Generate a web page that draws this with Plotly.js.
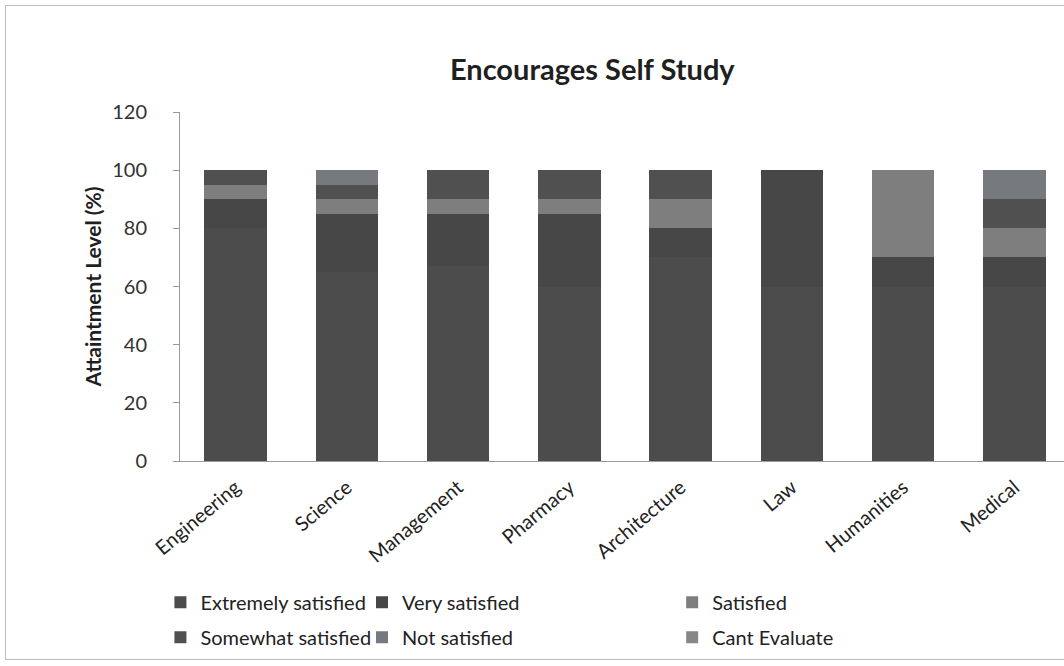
<!DOCTYPE html>
<html>
<head>
<meta charset="utf-8">
<script src="https://cdn.plot.ly/plotly-3.0.1.min.js"></script>
<style>
html,body{margin:0;padding:0;background:#fff;overflow:hidden;}
#frame{position:absolute;left:5px;top:5px;width:1080px;height:655px;border:1px solid #bdbdbd;box-sizing:border-box;}
#chart{position:absolute;left:0;top:0;width:1075px;height:666px;}
</style>
</head>
<body>
<div id="frame"></div>
<div id="chart"></div>
<script>
const categories = ["Engineering","Science","Management","Pharmacy","Architecture","Law","Humanities","Medical"];
const seriesNames = ["Extremely satisfied","Very satisfied","Satisfied","Somewhat satisfied","Not satisfied","Cant Evaluate"];
const extremelySatisfied = [80, 65, 67, 60, 70, 60, 60, 60];
const verySatisfied      = [10, 20, 18, 25, 10, 40, 10, 10];
const satisfied          = [5, 5, 5, 5, 10, 0, 30, 10];
const somewhatSatisfied  = [5, 5, 10, 10, 10, 0, 0, 10];
const notSatisfied       = [0, 5, 0, 0, 0, 0, 0, 10];
const cantEvaluate       = [0, 0, 0, 0, 0, 0, 0, 0];
const yTicks = [0, 20, 40, 60, 80, 100, 120];

const seriesValues = [extremelySatisfied, verySatisfied, satisfied, somewhatSatisfied, notSatisfied, cantEvaluate];
const colors = ["#4c4c4c", "#474747", "#7e7e7e", "#505050", "#76797d", "#878787"];
const legendIds = ["legend","legend2","legend3","legend4","legend5","legend6"];
const FONT = "Lato, 'Open Sans', sans-serif";

const traces = seriesNames.map((name, i) => ({
  type: "bar",
  name: name,
  x: categories,
  y: seriesValues[i],
  marker: {color: colors[i], line: {width: 0}},
  legend: legendIds[i],
  hoverinfo: "x+y+name"
}));

// legend placement (paper coords): columns / rows
const colX = [-0.022, 0.2045, 0.553];
const rowY = [-0.405, -0.505];
const legendPos = [[0,0],[1,0],[2,0],[0,1],[1,1],[2,1]];

const layout = {
  width: 1075, height: 666,
  paper_bgcolor: "rgba(0,0,0,0)",
  plot_bgcolor: "rgba(0,0,0,0)",
  margin: {l: 180, r: 5, t: 112, b: 205},
  barmode: "stack",
  bargap: 0.44,
  font: {family: FONT, color: "#222"},
  title: {text: "<b>Encourages Self Study</b>", font: {family: FONT, size: 29, color: "#1f1f1f"},
          x: 0.551, xref: "container", xanchor: "center", y: 0.895, yref: "container", yanchor: "middle"},
  xaxis: {
    type: "category",
    tickangle: -40,
    tickfont: {family: FONT, size: 20, color: "#222"},
    ticklabelstandoff: 6,
    showline: true, linecolor: "#9a9a9a", linewidth: 1,
    ticks: "", showgrid: false, zeroline: false
  },
  yaxis: {
    range: [0, 120],
    tickvals: yTicks,
    ticktext: yTicks.map(String),
    tickfont: {family: FONT, size: 20, color: "#333"},
    ticks: "outside", ticklen: 6, tickcolor: "#9a9a9a",
    ticklabelstandoff: 22,
    showline: true, linecolor: "#9a9a9a", linewidth: 1,
    showgrid: false, zeroline: false,
    title: {text: "<b>Attaintment Level (%)</b>", font: {family: FONT, size: 21, color: "#1f1f1f"}, standoff: 4}
  },
  showlegend: true
};

legendIds.forEach((id, i) => {
  const [c, r] = legendPos[i];
  layout[id] = {
    x: colX[c], y: rowY[r], xanchor: "left", yanchor: "middle",
    orientation: "v",
    bgcolor: "rgba(0,0,0,0)",
    font: {family: FONT, size: 20, color: "#222"}
  };
});

Plotly.newPlot("chart", traces, layout, {displayModeBar: false, staticPlot: true});
</script>
</body>
</html>
